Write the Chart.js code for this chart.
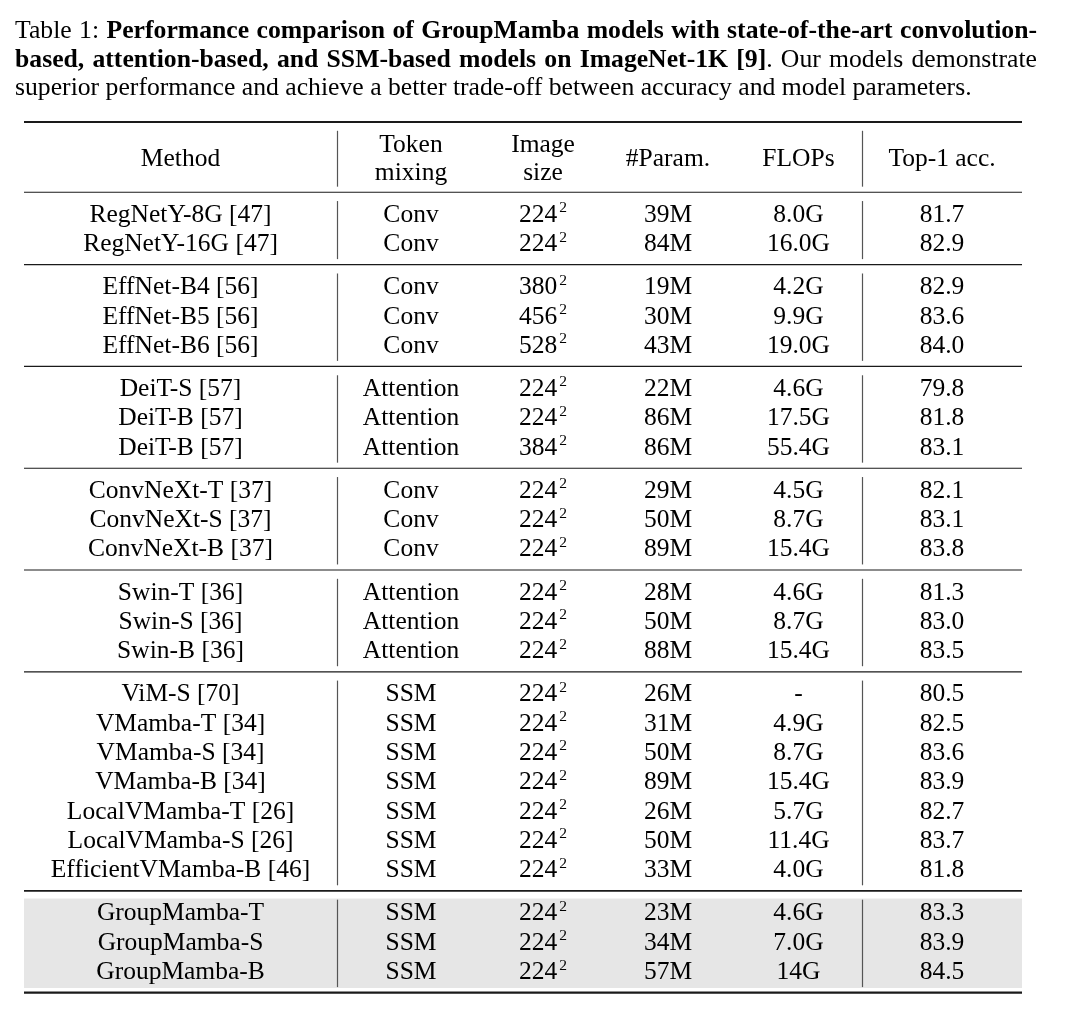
<!DOCTYPE html>
<html>
<head>
<meta charset="utf-8">
<title>Table 1</title>
<script src="https://cdn.jsdelivr.net/npm/chart.js@4.4.1/dist/chart.umd.min.js"></script>
<style>
    html, body { margin: 0; padding: 0; background: #fff; }
    #wrap { position: relative; width: 1080px; height: 1018px; overflow: hidden; }
    #caption {
        position: absolute; left: 15px; top: 16px; width: 1022px;
        font-family: "Liberation Serif", "Times New Roman", serif;
        font-size: 25.7px; line-height: 28.5px; color: #000;
    }
    #caption .j { text-align: justify; text-align-last: justify; }
    #table { position: absolute; left: 0; top: 0; }
</style>
</head>
<body>
<div id="wrap">
    <canvas id="table" width="1080" height="1018"></canvas>
    <div id="caption">
        <div class="j">Table 1: <b>Performance comparison of GroupMamba models with state-of-the-art convolution-</b></div>
        <div class="j"><b>based, attention-based, and SSM-based models on ImageNet-1K [9]</b>. Our models demonstrate</div>
        <div>superior performance and achieve a better trade-off between accuracy and model parameters.</div>
    </div>
</div>
<script>
// table content
const methods = [
    'RegNetY-8G [47]', 'RegNetY-16G [47]',
    'EffNet-B4 [56]', 'EffNet-B5 [56]', 'EffNet-B6 [56]',
    'DeiT-S [57]', 'DeiT-B [57]', 'DeiT-B [57]',
    'ConvNeXt-T [37]', 'ConvNeXt-S [37]', 'ConvNeXt-B [37]',
    'Swin-T [36]', 'Swin-S [36]', 'Swin-B [36]',
    'ViM-S [70]', 'VMamba-T [34]', 'VMamba-S [34]', 'VMamba-B [34]',
    'LocalVMamba-T [26]', 'LocalVMamba-S [26]', 'EfficientVMamba-B [46]',
    'GroupMamba-T', 'GroupMamba-S', 'GroupMamba-B'
];
const tokenMixing = [
    'Conv', 'Conv',
    'Conv', 'Conv', 'Conv',
    'Attention', 'Attention', 'Attention',
    'Conv', 'Conv', 'Conv',
    'Attention', 'Attention', 'Attention',
    'SSM', 'SSM', 'SSM', 'SSM', 'SSM', 'SSM', 'SSM',
    'SSM', 'SSM', 'SSM'
];
const imageSizes = [
    224, 224,
    380, 456, 528,
    224, 224, 384,
    224, 224, 224,
    224, 224, 224,
    224, 224, 224, 224, 224, 224, 224,
    224, 224, 224
];
const params = [
    '39M', '84M',
    '19M', '30M', '43M',
    '22M', '86M', '86M',
    '29M', '50M', '89M',
    '28M', '50M', '88M',
    '26M', '31M', '50M', '89M', '26M', '50M', '33M',
    '23M', '34M', '57M'
];
const flops = [
    '8.0G', '16.0G',
    '4.2G', '9.9G', '19.0G',
    '4.6G', '17.5G', '55.4G',
    '4.5G', '8.7G', '15.4G',
    '4.6G', '8.7G', '15.4G',
    '-', '4.9G', '8.7G', '15.4G', '5.7G', '11.4G', '4.0G',
    '4.6G', '7.0G', '14G'
];
const top1 = [
    81.7, 82.9,
    82.9, 83.6, 84.0,
    79.8, 81.8, 83.1,
    82.1, 83.1, 83.8,
    81.3, 83.0, 83.5,
    80.5, 82.5, 83.6, 83.9, 82.7, 83.7, 81.8,
    83.3, 83.9, 84.5
];
const groupSizes = [2, 3, 3, 3, 3, 7, 3];
const headers = [['Method'], ['Token', 'mixing'], ['Image', 'size'], ['#Param.'], ['FLOPs'], ['Top-1 acc.']];
const highlightGroup = 6;

// layout (pixels for x, row pitches for y)
const colWidths = [313, 148, 116, 134, 127, 160];
const splitAfter = [0, 4];
const TABLE_LEFT = 24;
const TABLE_TOP = 122;
const ROW_PX = 29.33;
const FONT = '"Liberation Serif", "Times New Roman", serif';
const FONT_SIZE = 25.5;
const SUP_SIZE = 15.5;

const tableWidth = colWidths.reduce((a, b) => a + b, 0);
const colEdges = [0];
colWidths.forEach(w => colEdges.push(colEdges[colEdges.length - 1] + w));
const colCenters = colWidths.map((w, i) => colEdges[i] + w / 2);

// row positions: rules sit 0.72 rows above the first row centre and 0.75 below the last
const headY = [0.72, 1.675];
const ruleY = [0];
const rowY = [];
let cur = headY[1] + 0.72;
ruleY.push(cur);
groupSizes.forEach(n => {
    cur += 0.72;
    for (let i = 0; i < n; i++) {
        rowY.push(cur);
        if (i < n - 1) cur += 1;
    }
    cur += 0.75;
    ruleY.push(cur);
});

const columns = [
    methods,
    tokenMixing,
    imageSizes,
    params,
    flops,
    top1.map(v => v.toFixed(1))
];

const datasets = columns.map((col, c) => ({
    label: headers[c].join(' '),
    data: col.map((v, i) => ({ x: colCenters[c], y: rowY[i], text: v })),
    pointRadius: 0,
    showLine: false
}));

const tableRules = {
    id: 'tableRules',
    beforeDatasetsDraw(chart) {
        const { ctx, scales: { x, y } } = chart;
        const left = x.getPixelForValue(0);
        const right = x.getPixelForValue(tableWidth);
        ctx.save();

        // shaded block for the proposed models
        const top = y.getPixelForValue(ruleY[highlightGroup + 1] + 0.26);
        const bot = y.getPixelForValue(ruleY[highlightGroup + 2] - 0.16);
        ctx.fillStyle = '#e6e6e6';
        ctx.fillRect(left, top, right - left, bot - top);

        // vertical separators, broken at every horizontal rule
        ctx.strokeStyle = '#555';
        ctx.lineWidth = 1.2;
        for (let k = 0; k < ruleY.length - 1; k++) {
            const y0 = y.getPixelForValue(ruleY[k] + 0.3);
            const y1 = y.getPixelForValue(ruleY[k + 1] - 0.19);
            splitAfter.forEach(c => {
                const px = Math.round(x.getPixelForValue(colEdges[c + 1])) + 0.5;
                ctx.beginPath();
                ctx.moveTo(px, y0);
                ctx.lineTo(px, y1);
                ctx.stroke();
            });
        }

        // horizontal rules
        ctx.strokeStyle = '#1a1a1a';
        ruleY.forEach((r, k) => {
            let w = 1.2;
            if (k === 0 || k === ruleY.length - 1) w = 2.2;
            else if (k === highlightGroup + 1) w = 1.8;
            const py = y.getPixelForValue(r);
            ctx.lineWidth = w;
            ctx.beginPath();
            ctx.moveTo(left, py);
            ctx.lineTo(right, py);
            ctx.stroke();
        });
        ctx.restore();
    },
    afterDatasetsDraw(chart) {
        const { ctx, scales: { x, y } } = chart;
        const capMid = FONT_SIZE * 0.33;
        const mainFont = `${FONT_SIZE}px ${FONT}`;
        const supFont = `${SUP_SIZE}px ${FONT}`;
        ctx.save();
        ctx.fillStyle = '#000';
        ctx.textAlign = 'left';
        ctx.textBaseline = 'alphabetic';
        ctx.font = mainFont;

        const centred = (s, cx, base) => {
            const w = ctx.measureText(s).width;
            ctx.fillText(s, cx - w / 2, base);
        };

        // header
        headers.forEach((lines, c) => {
            const cx = x.getPixelForValue(colCenters[c]);
            if (lines.length === 1) {
                const cy = y.getPixelForValue((headY[0] + headY[1]) / 2);
                centred(lines[0], cx, cy + capMid);
            } else {
                lines.forEach((s, k) => centred(s, cx, y.getPixelForValue(headY[k]) + capMid));
            }
        });

        // body cells
        chart.data.datasets.forEach((ds, c) => {
            const meta = chart.getDatasetMeta(c);
            meta.data.forEach((pt, i) => {
                const s = String(ds.data[i].text);
                const base = pt.y + capMid;
                if (c === 2) {
                    // image size with squared superscript
                    ctx.font = mainFont;
                    const w1 = ctx.measureText(s).width;
                    ctx.font = supFont;
                    const w2 = ctx.measureText('2').width;
                    const sx = pt.x - (w1 + w2 + 2) / 2;
                    ctx.font = mainFont;
                    ctx.fillText(s, sx, base);
                    ctx.font = supFont;
                    ctx.fillText('2', sx + w1 + 2, base - 9.5);
                    ctx.font = mainFont;
                } else {
                    centred(s, pt.x, base);
                }
            });
        });
        ctx.restore();
    }
};

new Chart(document.getElementById('table'), {
    type: 'scatter',
    data: { datasets },
    options: {
        responsive: false,
        animation: false,
        events: [],
        layout: {
            padding: { left: TABLE_LEFT, right: 1080 - TABLE_LEFT - tableWidth, top: TABLE_TOP, bottom: 0 }
        },
        scales: {
            x: { type: 'linear', display: false, min: 0, max: tableWidth },
            y: { type: 'linear', display: false, reverse: true, min: 0, max: (1018 - TABLE_TOP) / ROW_PX }
        },
        plugins: {
            legend: { display: false },
            tooltip: { enabled: false },
            title: { display: false }
        }
    },
    plugins: [tableRules]
});
</script>
</body>
</html>
